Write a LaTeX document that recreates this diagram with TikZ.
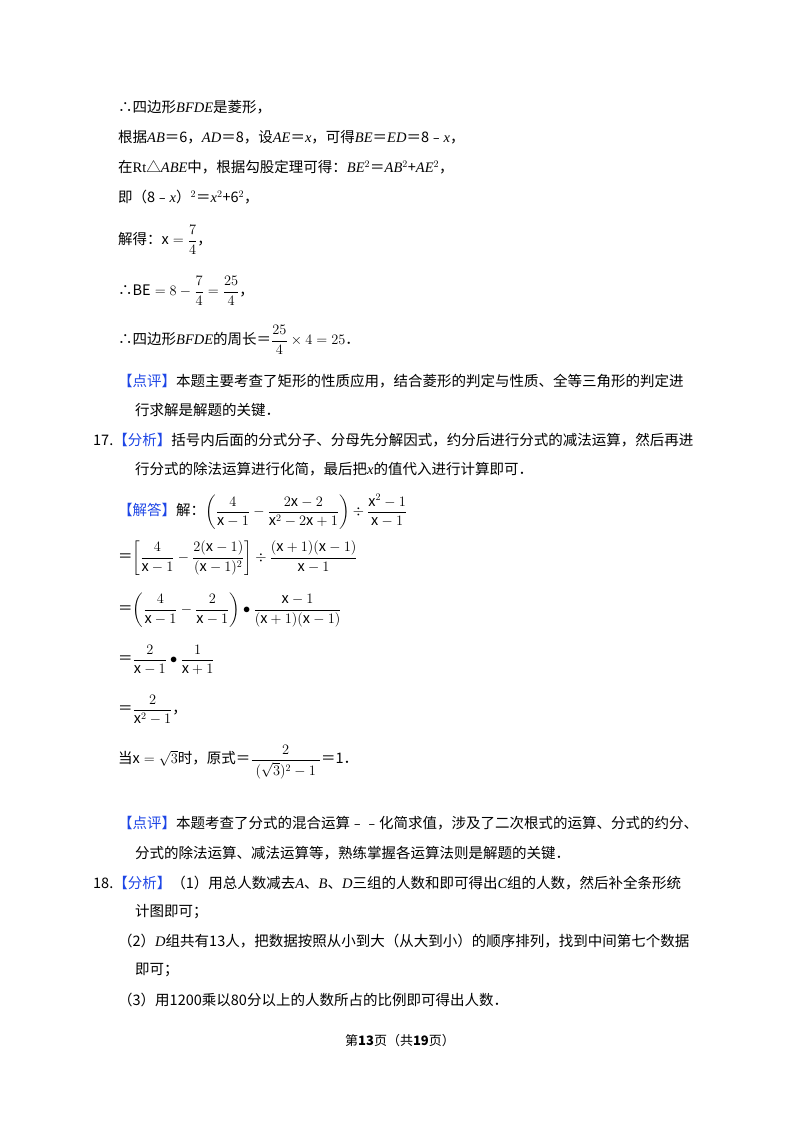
\documentclass[tikz,border=0pt]{standalone}
\usepackage{amsmath}
\usepackage{fontspec}
\setmainfont{Noto Sans CJK SC}
\newfontfamily\lat{Liberation Serif}
\newcommand{\vv}[1]{{\lat\itshape #1}}
\newcommand{\rr}[1]{{\lat #1}}
\definecolor{bl}{RGB}{30,70,230}
\newcommand{\bk}[1]{{\color{bl}【#1】}}
\begin{document}
\begin{tikzpicture}[x=1pt,y=-1pt,
  t/.style={anchor=west,inner sep=0pt,font=\fontsize{14.5}{17}\selectfont},
  m/.style={anchor=west,inner sep=0pt,font=\fontsize{13}{15}\selectfont}]
\useasboundingbox[fill=white] (0,0) rectangle (800,1132);
\node[t] (l1) at (118,107) {∴四边形\vv{BFDE}是菱形，};
\node[t] (l2) at (118,137) {根据\vv{AB}＝6，\vv{AD}＝8，设\vv{AE}＝\vv{x}，可得\vv{BE}＝\vv{ED}＝8﹣\vv{x}，};
\node[t] (l3) at (118,167) {在\rr{Rt}△\vv{ABE}中，根据勾股定理可得：\vv{BE}$^2$＝\vv{AB}$^2$+\vv{AE}$^2$，};
\node[t] (l4) at (118,197) {即（8﹣\vv{x}）$^2$＝\vv{x}$^2$+6$^2$，};
\node[t] (l5) at (118,240) {解得：$\mathrm{x}=\dfrac{7}{4}$，};
\node[t] (l6) at (118,291) {∴$\mathrm{BE}=8-\dfrac{7}{4}=\dfrac{25}{4}$，};
\node[t] (l7) at (118,340) {∴四边形\vv{BFDE}的周长＝$\dfrac{25}{4}\times 4=25$．};
\node[t] (l8) at (118,381) {\bk{点评}本题主要考查了矩形的性质应用，结合菱形的判定与性质、全等三角形的判定进};
\node[t] (l9) at (135,410) {行求解是解题的关键．};
\node[t] (l10) at (93,440) {17.\bk{分析}括号内后面的分式分子、分母先分解因式，约分后进行分式的减法运算，然后再进};
\node[t] (l11) at (135,469) {行分式的除法运算进行化简，最后把\vv{x}的值代入进行计算即可．};
\node[t] (l12) at (118,512) {\bk{解答}解：$\left(\dfrac{4}{\mathrm{x}-1}-\dfrac{2\mathrm{x}-2}{\mathrm{x}^2-2\mathrm{x}+1}\right)\div\dfrac{\mathrm{x}^2-1}{\mathrm{x}-1}$};
\node[t] (l13) at (118,558) {＝$\left[\dfrac{4}{\mathrm{x}-1}-\dfrac{2(\mathrm{x}-1)}{(\mathrm{x}-1)^2}\right]\div\dfrac{(\mathrm{x}+1)(\mathrm{x}-1)}{\mathrm{x}-1}$};
\node[t] (l14) at (118,610) {＝$\left(\dfrac{4}{\mathrm{x}-1}-\dfrac{2}{\mathrm{x}-1}\right)\bullet\dfrac{\mathrm{x}-1}{(\mathrm{x}+1)(\mathrm{x}-1)}$};
\node[t] (l15) at (118,660) {＝$\dfrac{2}{\mathrm{x}-1}\bullet\dfrac{1}{\mathrm{x}+1}$};
\node[t] (l16) at (118,710) {＝$\dfrac{2}{\mathrm{x}^2-1}$，};
\node[t] (l17) at (118,762) {当$\mathrm{x}=\sqrt{3}$时，原式＝$\dfrac{2}{\;(\sqrt{3})^2-1\;}$＝1．};
\node[t] (l18) at (118,823) {\bk{点评}本题考查了分式的混合运算﹣﹣化简求值，涉及了二次根式的运算、分式的约分、};
\node[t] (l19) at (135,853) {分式的除法运算、减法运算等，熟练掌握各运算法则是解题的关键．};
\node[t] (l20) at (93,883) {18.\bk{分析}（1）用总人数减去\vv{A}、\vv{B}、\vv{D}三组的人数和即可得出\vv{C}组的人数，然后补全条形统};
\node[t] (l21) at (135,912) {计图即可；};
\node[t] (l22) at (118,941) {（2）\vv{D}组共有13人，把数据按照从小到大（从大到小）的顺序排列，找到中间第七个数据};
\node[t] (l23) at (135,970) {即可；};
\node[t] (l24) at (118,1000) {（3）用1200乘以80分以上的人数所占的比例即可得出人数．};
\node[anchor=center,inner sep=0pt,font=\fontsize{13}{15}\selectfont] (ft) at (400,1041) {第\textbf{13}页（共\textbf{19}页）};
\end{tikzpicture}
\end{document}
